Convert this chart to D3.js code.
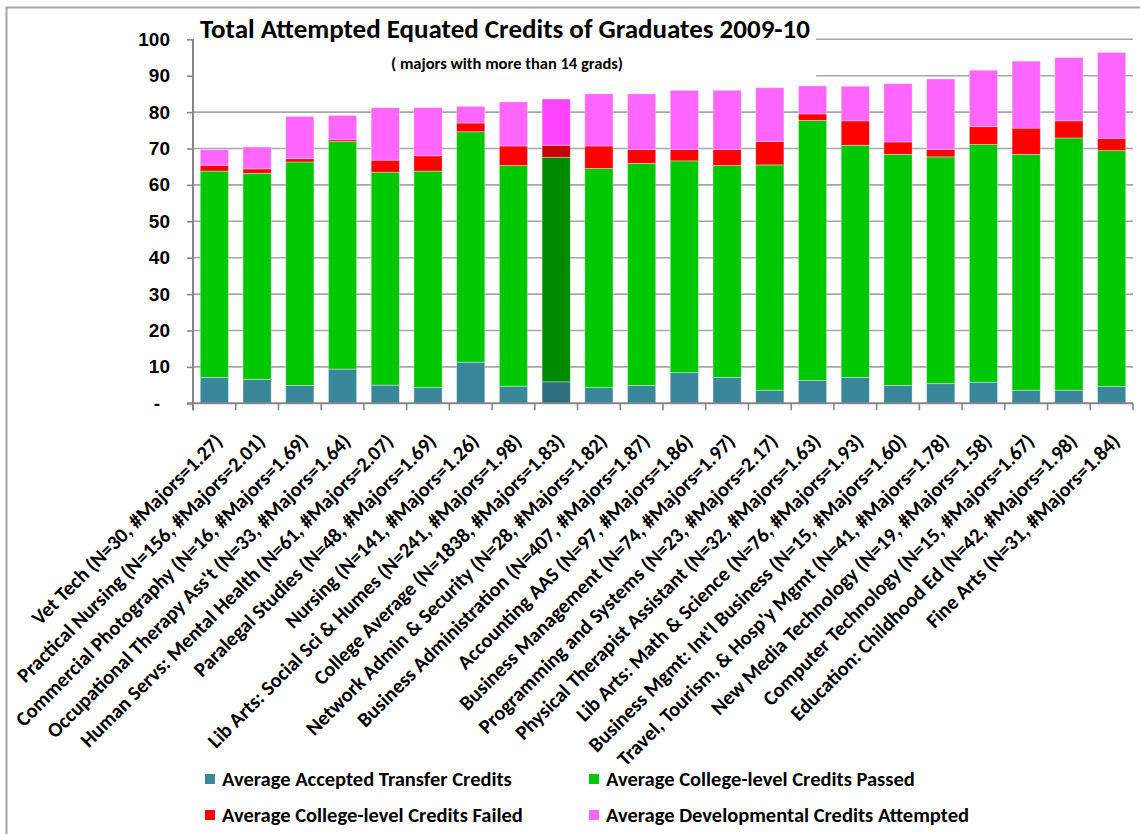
<!DOCTYPE html>
<html>
<head>
<meta charset="utf-8">
<script src="https://cdn.jsdelivr.net/npm/d3@7"></script>
<style>
  html, body { margin: 0; padding: 0; background: #fff; }
  svg { display: block; font-family: Carlito, Calibri, Lato, "Liberation Sans", sans-serif; font-weight: bold; }
</style>
</head>
<body>
<svg id="chart" width="1140" height="834"></svg>
<script>
// ---------------- DATA ----------------
const categories = [
  "Vet Tech (N=30, #Majors=1.27)",
  "Practical Nursing (N=156, #Majors=2.01)",
  "Commercial Photography (N=16, #Majors=1.69)",
  "Occupational Therapy Ass't (N=33, #Majors=1.64)",
  "Human Servs: Mental Health (N=61, #Majors=2.07)",
  "Paralegal Studies (N=48, #Majors=1.69)",
  "Nursing (N=141, #Majors=1.26)",
  "Lib Arts: Social Sci & Humes (N=241, #Majors=1.98)",
  "College Average (N=1838, #Majors=1.83)",
  "Network Admin & Security (N=28, #Majors=1.82)",
  "Business Administration (N=407, #Majors=1.87)",
  "Accounting AAS (N=97, #Majors=1.86)",
  "Business Management (N=74, #Majors=1.97)",
  "Programming and Systems (N=23, #Majors=2.17)",
  "Physical Therapist Assistant (N=32, #Majors=1.63)",
  "Lib Arts: Math & Science (N=76, #Majors=1.93)",
  "Business Mgmt: Int'l Business (N=15, #Majors=1.60)",
  "Travel, Tourism, & Hosp'y Mgmt (N=41, #Majors=1.78)",
  "New Media Technology (N=19, #Majors=1.58)",
  "Computer Technology (N=15, #Majors=1.67)",
  "Education: Childhood Ed (N=42, #Majors=1.98)",
  "Fine Arts (N=31, #Majors=1.84)"
];
const transferCredits = [7.1, 6.6, 4.9, 9.4, 5.0, 4.3, 11.3, 4.7, 5.9, 4.3, 4.9, 8.4, 7.1, 3.6, 6.3, 7.1, 4.9, 5.4, 5.8, 3.6, 3.6, 4.6];
const passedCredits   = [56.7, 56.6, 61.4, 62.5, 58.5, 59.5, 63.3, 60.6, 61.7, 60.2, 61.0, 58.2, 58.2, 61.9, 71.4, 63.8, 63.5, 62.3, 65.3, 64.8, 69.3, 64.8];
const failedCredits   = [1.6, 1.2, 0.9, 0.5, 3.3, 4.2, 2.4, 5.4, 3.3, 6.2, 3.8, 3.1, 4.4, 6.4, 1.8, 6.7, 3.4, 2.0, 4.9, 7.2, 4.7, 3.4];
const devCredits      = [4.3, 6.0, 11.6, 6.7, 14.4, 13.2, 4.6, 12.1, 12.7, 14.3, 15.3, 16.3, 16.3, 14.8, 7.7, 9.5, 16.0, 19.4, 15.5, 18.4, 17.4, 23.6];
const seriesNames = [
  "Average Accepted Transfer Credits",
  "Average College-level Credits Passed",
  "Average College-level Credits Failed",
  "Average Developmental Credits Attempted"
];
const yTicks = [0, 10, 20, 30, 40, 50, 60, 70, 80, 90, 100];
const highlightCategory = "College Average (N=1838, #Majors=1.83)";
const titleText = "Total Attempted Equated Credits of Graduates 2009-10";
const subtitleText = "( majors with more than 14 grads)";

// ---------------- STYLE ----------------
const keys = ["transfer", "passed", "failed", "dev"];
const colors = { transfer: "#38889A", passed: "#00C800", failed: "#FF0000", dev: "#FF66FF" };
const hiColors = { transfer: "#2D6F7F", passed: "#008A00", failed: "#C80000", dev: "#FF44FF" };

const rows = categories.map((c, i) => ({
  cat: c, transfer: transferCredits[i], passed: passedCredits[i], failed: failedCredits[i], dev: devCredits[i]
}));

const svg = d3.select("#chart");
const plotLeft = 193, plotRight = 1133, plotTop = 39.3, plotBottom = 403.3;

const x = d3.scaleBand().domain(categories).range([plotLeft, plotRight]).paddingInner(0.34).paddingOuter(0.17);
const y = d3.scaleLinear().domain([0, 100]).range([plotBottom, plotTop]);

// outer chart border
svg.append("rect").attr("x", 6.5).attr("y", 7.5).attr("width", 1160).attr("height", 860)
  .attr("fill", "none").attr("stroke", "#A6A6A6").attr("stroke-width", 2);

// gridlines
svg.append("g").selectAll("line").data(yTicks.filter(d => d > 0)).join("line")
  .attr("x1", plotLeft).attr("x2", plotRight)
  .attr("y1", d => y(d)).attr("y2", d => y(d))
  .attr("stroke", "#A6A6A6").attr("stroke-width", 1.6);

// title box (hides gridlines behind title)
svg.append("rect").attr("x", plotLeft + 1).attr("y", 9).attr("width", 816 - plotLeft - 1).attr("height", 73).attr("fill", "#fff");

// bars
const stacked = d3.stack().keys(keys)(rows);
const gBars = svg.append("g");
stacked.forEach(layer => {
  const k = layer.key;
  gBars.append("g").selectAll("rect").data(layer).join("rect")
    .attr("x", d => x(d.data.cat))
    .attr("width", x.bandwidth())
    .attr("y", d => y(d[1]))
    .attr("height", d => y(d[0]) - y(d[1]))
    .attr("fill", d => d.data.cat === highlightCategory ? hiColors[k] : colors[k])
    .attr("stroke", "rgba(255,255,255,0.45)").attr("stroke-width", 0.8);
});

// y axis
const yAxis = d3.axisLeft(y).tickValues(yTicks).tickSize(6).tickPadding(17)
  .tickFormat(d => d === 0 ? "-" : d);
const gy = svg.append("g").attr("transform", `translate(${plotLeft},0)`).call(yAxis);
gy.select(".domain").attr("stroke", "#868686").attr("stroke-width", 2).attr("d", `M0,${plotTop}V${plotBottom + 7}`);
gy.selectAll(".tick line").attr("stroke", "#868686").attr("stroke-width", 1.6);
gy.selectAll(".tick text").attr("fill", "#000").style("font-size", "19px").style("font-family", "inherit").style("font-weight", "bold");
gy.selectAll(".tick text").filter(d => d === 0).attr("dx", -10);

// x axis line & ticks at category boundaries
const boundaries = d3.range(categories.length + 1).map(i => plotLeft + i * x.step());
svg.append("line").attr("x1", plotLeft - 6).attr("x2", plotRight).attr("y1", plotBottom).attr("y2", plotBottom)
  .attr("stroke", "#868686").attr("stroke-width", 2);
svg.append("g").selectAll("line").data(boundaries).join("line")
  .attr("x1", d => d).attr("x2", d => d).attr("y1", plotBottom).attr("y2", plotBottom + 7)
  .attr("stroke", "#868686").attr("stroke-width", 1.6);

// x labels
svg.append("g").selectAll("text").data(categories).join("text")
  .attr("transform", d => `translate(${x(d) + x.bandwidth() / 2 - 1},${plotBottom + 29}) rotate(-45)`)
  .attr("text-anchor", "end").attr("dy", "0.71em")
  .style("font-size", "20.5px").attr("fill", "#000")
  .text(d => d);

// title
svg.append("text").attr("x", 505).attr("y", 38).attr("text-anchor", "middle")
  .style("font-size", "27px").attr("fill", "#000").text(titleText);
svg.append("text").attr("x", 507).attr("y", 69).attr("text-anchor", "middle")
  .style("font-size", "16.5px").attr("fill", "#000").text(subtitleText);

// legend
const legendPos = [
  { x: 205, y: 779 }, { x: 589, y: 779 },
  { x: 205, y: 815 }, { x: 589, y: 815 }
];
const gl = svg.append("g");
keys.forEach((k, i) => {
  const p = legendPos[i];
  gl.append("rect").attr("x", p.x).attr("y", p.y - 5).attr("width", 10).attr("height", 10).attr("fill", colors[k]);
  gl.append("text").attr("x", p.x + 17).attr("y", p.y).attr("dy", "0.35em")
    .style("font-size", "20.5px").attr("fill", "#000").text(seriesNames[i]);
});
</script>
</body>
</html>
